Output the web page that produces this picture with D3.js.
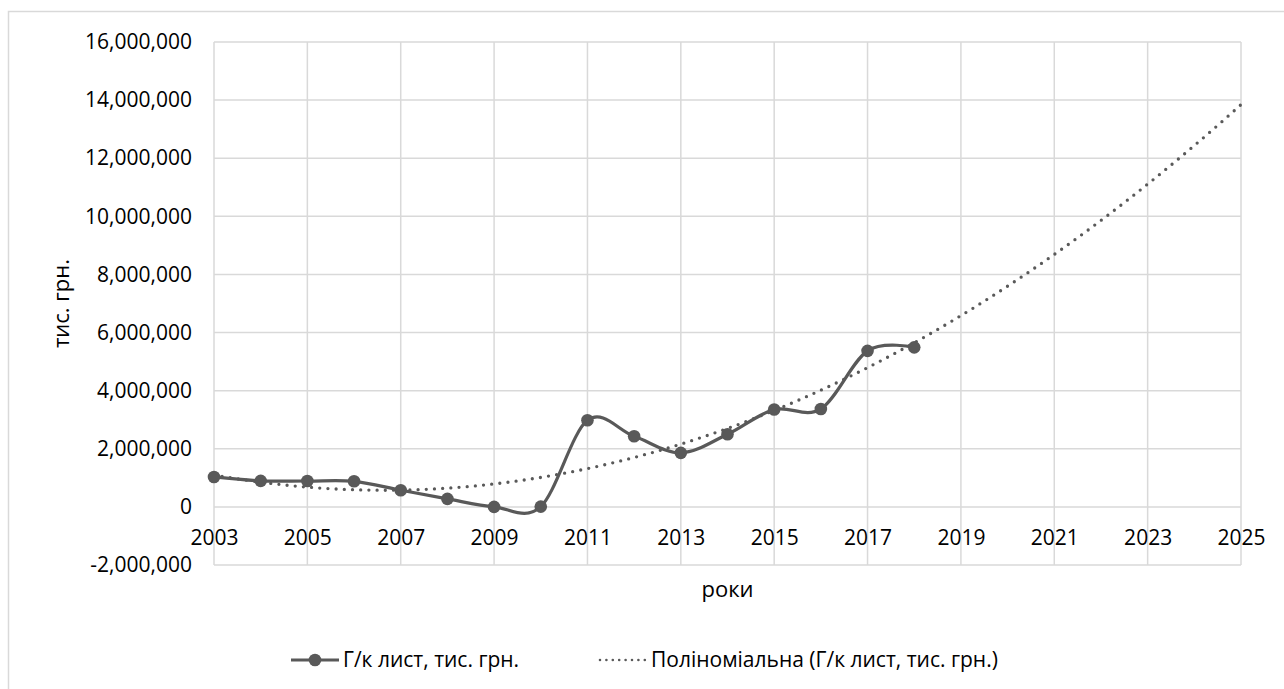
<!DOCTYPE html>
<html>
<head>
<meta charset="utf-8">
<script src="https://cdn.jsdelivr.net/npm/d3@7"></script>
<style>
  html, body { margin: 0; padding: 0; background: #fff; }
  svg { display: block; }
  text { font-family: "Open Sans", "Noto Sans", sans-serif; fill: #000; }
</style>
</head>
<body>
<svg id="chart" width="1284" height="689"></svg>
<script>
// Hot-rolled sheet, thousand UAH, by year
const years = [2003, 2004, 2005, 2006, 2007, 2008, 2009, 2010, 2011, 2012, 2013, 2014, 2015, 2016, 2017, 2018];
const values = [1030000, 895000, 890000, 880000, 575000, 275000, 0, 10000, 2980000, 2430000, 1860000, 2500000, 3350000, 3370000, 5370000, 5490000];

// Axis ticks and labels
const xTicks = [2003, 2005, 2007, 2009, 2011, 2013, 2015, 2017, 2019, 2021, 2023, 2025];
const yTicks = [-2000000, 0, 2000000, 4000000, 6000000, 8000000, 10000000, 12000000, 14000000, 16000000];
const yTickLabels = ["-2,000,000", "0", "2,000,000", "4,000,000", "6,000,000", "8,000,000", "10,000,000", "12,000,000", "14,000,000", "16,000,000"];

const seriesName = "Г/к лист, тис. грн.";
const trendName = "Поліноміальна (Г/к лист, тис. грн.)";
const xTitle = "роки";
const yTitle = "тис. грн.";
const trendEndYear = 2025;

const ink = "#595959";
const grid = "#d9d9d9";

const svg = d3.select("#chart");
const W = 1284, H = 689;
const plot = { left: 214, right: 1241, top: 42, bottom: 565 };

svg.append("rect").attr("width", W).attr("height", H).attr("fill", "#fff");
// chart frame (continues past the page edge on the right and bottom)
svg.append("rect")
  .attr("x", 8.5).attr("y", 11.5)
  .attr("width", W + 20).attr("height", H + 20)
  .attr("fill", "none").attr("stroke", grid).attr("stroke-width", 1.5);

const x = d3.scaleLinear().domain([2003, 2025]).range([plot.left, plot.right]);
const y = d3.scaleLinear().domain([-2000000, 16000000]).range([plot.bottom, plot.top]);

// gridlines
const g = svg.append("g");
g.selectAll("line.h").data(yTicks).join("line")
  .attr("x1", plot.left).attr("x2", plot.right)
  .attr("y1", d => y(d)).attr("y2", d => y(d))
  .attr("stroke", grid).attr("stroke-width", 1.5);
g.selectAll("line.v").data(xTicks).join("line")
  .attr("y1", plot.top).attr("y2", plot.bottom)
  .attr("x1", d => x(d)).attr("x2", d => x(d))
  .attr("stroke", grid).attr("stroke-width", 1.5);

// y axis labels
const yAxis = d3.axisLeft(y).tickValues(yTicks)
  .tickFormat((d, i) => yTickLabels[i]).tickSize(0).tickPadding(22);
svg.append("g").attr("transform", `translate(${plot.left},0)`).call(yAxis)
  .call(s => s.select(".domain").remove())
  .call(s => s.selectAll("text").attr("font-size", 21).attr("fill", "#000")
    .attr("font-family", "'Open Sans', sans-serif"));

// x axis labels sit below the zero line
const xAxis = d3.axisBottom(x).tickValues(xTicks).tickFormat(d3.format("d")).tickSize(0).tickPadding(23);
svg.append("g").attr("transform", `translate(0,${y(0)})`).call(xAxis)
  .call(s => s.select(".domain").remove())
  .call(s => s.selectAll("text").attr("font-size", 21).attr("fill", "#000")
    .attr("font-family", "'Open Sans', sans-serif"));

// axis titles
svg.append("text").attr("x", (plot.left + plot.right) / 2).attr("y", 597)
  .attr("text-anchor", "middle").attr("font-size", 22).text(xTitle);
svg.append("text").attr("transform", `translate(69,${(plot.top + plot.bottom) / 2}) rotate(-90)`)
  .attr("text-anchor", "middle").attr("font-size", 22).text(yTitle);

// second-order polynomial least-squares trend
function quadFit(xs, ys) {
  const n = xs.length;
  const mx = d3.mean(xs);
  const u = xs.map(v => v - mx);
  let s2 = 0, s3 = 0, s4 = 0, sy = 0, sxy = 0, sx2y = 0;
  u.forEach((t, i) => {
    s2 += t * t; s3 += t * t * t; s4 += t ** 4;
    sy += ys[i]; sxy += t * ys[i]; sx2y += t * t * ys[i];
  });
  // solve 3x3 normal equations (sum u = 0)
  const A = [[n, 0, s2], [0, s2, s3], [s2, s3, s4]];
  const B = [sy, sxy, sx2y];
  const det = m => m[0][0] * (m[1][1] * m[2][2] - m[1][2] * m[2][1])
                 - m[0][1] * (m[1][0] * m[2][2] - m[1][2] * m[2][0])
                 + m[0][2] * (m[1][0] * m[2][1] - m[1][1] * m[2][0]);
  const D = det(A);
  const coef = [0, 1, 2].map(k => det(A.map((row, r) => row.map((v, c) => c === k ? B[r] : v))) / D);
  return t => coef[0] + coef[1] * (t - mx) + coef[2] * (t - mx) ** 2;
}
const trend = quadFit(years, values);
const trendPts = d3.range(years[0], trendEndYear + 0.0001, 0.1).map(t => [t, trend(t)]);

svg.append("path")
  .attr("d", d3.line().x(d => x(d[0])).y(d => y(d[1]))(trendPts))
  .attr("fill", "none").attr("stroke", ink).attr("stroke-width", 3.3)
  .attr("stroke-linecap", "round").attr("stroke-dasharray", "0 8.2");

// smoothed data line with markers
const pts = years.map((yr, i) => [yr, values[i]]);
svg.append("path")
  .attr("d", d3.line().x(d => x(d[0])).y(d => y(d[1])).curve(d3.curveCardinal.tension(0))(pts))
  .attr("fill", "none").attr("stroke", ink).attr("stroke-width", 3.2)
  .attr("stroke-linejoin", "round");
svg.selectAll("circle.pt").data(pts).join("circle")
  .attr("cx", d => x(d[0])).attr("cy", d => y(d[1])).attr("r", 6.3)
  .attr("fill", ink);

// legend
const ly = 660;
const leg = svg.append("g");
leg.append("line").attr("x1", 291).attr("x2", 339).attr("y1", ly).attr("y2", ly)
  .attr("stroke", ink).attr("stroke-width", 3.2);
leg.append("circle").attr("cx", 315).attr("cy", ly).attr("r", 6.3).attr("fill", ink);
leg.append("text").attr("x", 343).attr("y", ly + 7).attr("font-size", 21).text(seriesName);
leg.append("line").attr("x1", 600).attr("x2", 645).attr("y1", ly).attr("y2", ly)
  .attr("stroke", ink).attr("stroke-width", 2.6).attr("stroke-linecap", "round")
  .attr("stroke-dasharray", "0 6.4");
leg.append("text").attr("x", 651).attr("y", ly + 7).attr("font-size", 21).text(trendName);
</script>
</body>
</html>
